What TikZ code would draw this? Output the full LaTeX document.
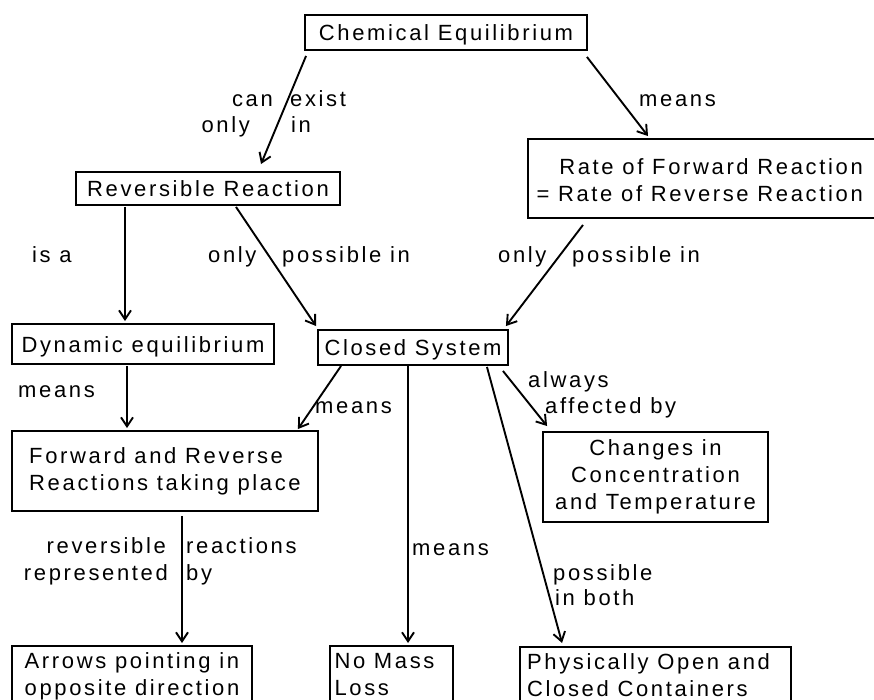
\documentclass[tikz,border=0pt]{standalone}
\usepackage{fontspec}
\setmainfont{Liberation Sans}[LetterSpace=12]
\usetikzlibrary{arrows.meta}
\begin{document}
\begin{tikzpicture}[x=1pt,y=-1pt,
  every node/.style={font=\fontsize{22}{27}\selectfont, inner sep=0pt},
  box/.style={draw, line width=1.9pt},
  one/.style={text height=16pt, text depth=0pt},
  conn/.style={line width=1.9pt, -{Straight Barb[length=9pt,width=12pt]}}]
\clip (0,0) rectangle (874,700);
% boxes
\node[box, one, minimum width=282pt, minimum height=35pt] (chem) at (446,32.5) {Chemical Equilibrium};
\node[box, one, minimum width=264pt, minimum height=33pt] (rev) at (208,188.5) {Reversible Reaction};
\node[box, minimum width=350pt, minimum height=79pt] (rate) at (703,178.5) {};
\node[anchor=east, align=right] (ratetext) at (863,180) {Rate of Forward Reaction\\= Rate of Reverse Reaction};
\node[box, one, minimum width=262pt, minimum height=40pt] (dyn) at (143,344) {Dynamic equilibrium};
\node[box, one, minimum width=190pt, minimum height=35pt] (closed) at (413,347.5) {Closed System};
\node[box, minimum width=306pt, minimum height=80pt, align=left] (fwd) at (165,471) {Forward and Reverse\\Reactions taking place};
\node[box, minimum width=225pt, minimum height=90pt, align=center] (chg) at (655.5,477) {Changes in\\Concentration\\and Temperature};
\node[box, minimum width=240pt, inner ysep=7pt, anchor=north, align=left] (arr) at (132,645) {Arrows pointing in\\opposite direction};
\node[box, minimum width=123pt, inner ysep=7pt, anchor=north, align=left] (nomass) at (391.5,645) {No Mass\rule{14pt}{0pt}\\Loss};
\node[box, minimum width=271pt, inner ysep=7pt, anchor=north, align=left] (phys) at (655.5,646) {Physically Open and\rule{14pt}{0pt}\\Closed Containers};
% connectors
\draw[conn] ([xshift=2pt,yshift=-5pt]chem.south west) -- ([xshift=53pt,yshift=7pt]rev.north);
\draw[conn] ([xshift=-1pt,yshift=-6pt]chem.south east) -- ([xshift=-55pt,yshift=2pt]rate.north);
\draw[conn] ([xshift=-83pt,yshift=-1pt]rev.south) -- ([xshift=-18pt,yshift=2pt]dyn.north);
\draw[conn] ([xshift=28pt,yshift=-1pt]rev.south) -- ([xshift=-1pt,yshift=3pt]closed.north west);
\draw[conn] ([xshift=-120pt,yshift=-6pt]rate.south) -- ([xshift=-3pt,yshift=3pt]closed.north east);
\draw[conn] ([xshift=-16pt,yshift=-1pt]dyn.south) -- ([xshift=-38pt,yshift=2pt]fwd.north);
\draw[conn] ([xshift=24pt]closed.south west) -- ([xshift=-21pt,yshift=1pt]fwd.north east);
\draw[conn] ([xshift=-5pt]closed.south) -- ([xshift=16.5pt,yshift=2pt]nomass.north);
\draw[conn] ([xshift=-6pt,yshift=-5pt]closed.south east) -- ([xshift=5pt,yshift=5pt]chg.north west);
\draw[conn] ([xshift=-22pt,yshift=-1pt]closed.south east) -- ([xshift=43pt,yshift=3pt]phys.north west);
\draw[conn] ([xshift=17pt,yshift=-4pt]fwd.south) -- ([xshift=50pt,yshift=2pt]arr.north);
% labels
\node[anchor=base east] (l1) at (273,107) {can};
\node[anchor=base east] (l2) at (250,133) {only};
\node[anchor=base west] (l3) at (290,107) {exist};
\node[anchor=base west] (l4) at (291,133) {in};
\node[anchor=base west] (l5) at (639,107) {means};
\node[anchor=base west] (l6) at (32,263) {is a};
\node[anchor=base west] (l7) at (208,263) {only};
\node[anchor=base west] (l8) at (282,263) {possible in};
\node[anchor=base west] (l9) at (498,263) {only};
\node[anchor=base west] (l10) at (572,263) {possible in};
\node[anchor=base west] (l11) at (18,397) {means};
\node[anchor=base west] (l12) at (315,413) {means};
\node[anchor=base west] (l13) at (528,387) {always};
\node[anchor=base west] (l14) at (545,413) {affected by};
\node[anchor=base east] (l15) at (166,553) {reversible};
\node[anchor=base east] (l16) at (168,580) {represented};
\node[anchor=base west] (l17) at (186,553) {reactions};
\node[anchor=base west] (l18) at (186,580) {by};
\node[anchor=base west] (l19) at (412,555) {means};
\node[anchor=base west] (l20) at (553,580) {possible};
\node[anchor=base west] (l21) at (555,605) {in both};
\end{tikzpicture}
\end{document}
